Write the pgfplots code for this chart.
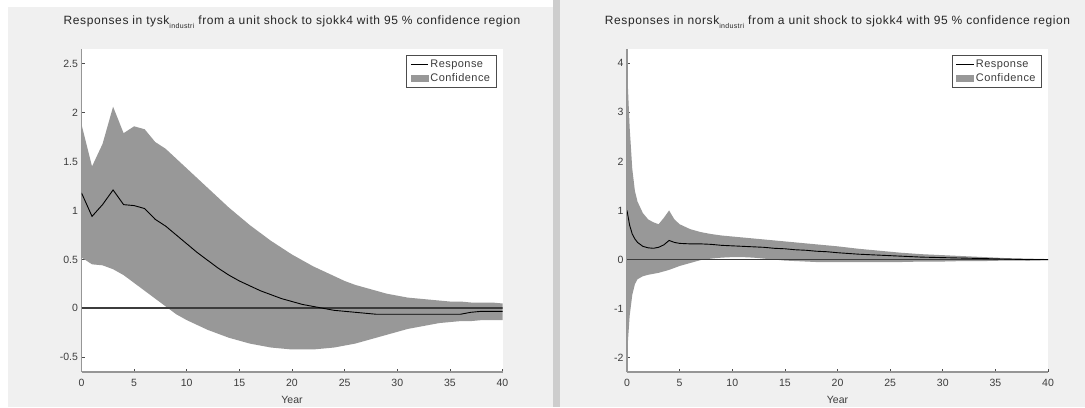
\documentclass[border=0pt]{standalone}
\usepackage{pgfplots}
\pgfplotsset{compat=1.18}
\usepackage{fontspec}
\setmainfont{Liberation Sans}
\definecolor{bg}{RGB}{240,240,240}
\definecolor{divider}{RGB}{205,205,205}
\definecolor{band}{RGB}{152,152,152}
\definecolor{axgray}{RGB}{150,150,150}
\definecolor{zeroline}{RGB}{60,60,60}
\definecolor{txt}{RGB}{60,60,60}

% response lines
\pgfplotstableread{
t resp
0 1.18
1 0.94
2 1.06
3 1.21
4 1.06
5 1.05
6 1.02
7 0.91
8 0.84
9 0.75
10 0.66
11 0.57
12 0.49
13 0.41
14 0.34
15 0.28
16 0.23
17 0.18
18 0.14
19 0.10
20 0.07
21 0.04
22 0.02
23 0.00
24 -0.02
25 -0.03
26 -0.04
27 -0.05
28 -0.06
29 -0.06
30 -0.06
31 -0.06
32 -0.06
33 -0.06
34 -0.06
35 -0.06
36 -0.06
37 -0.04
38 -0.03
39 -0.03
40 -0.03
}\tyskresp

% confidence region: upper bound forward, lower bound backward
\pgfplotstableread{
t v
0 1.88
1 1.45
2 1.68
3 2.06
4 1.79
5 1.86
6 1.83
7 1.70
8 1.63
9 1.53
10 1.43
11 1.33
12 1.23
13 1.13
14 1.03
15 0.94
16 0.85
17 0.77
18 0.69
19 0.62
20 0.55
21 0.49
22 0.43
23 0.38
24 0.33
25 0.28
26 0.24
27 0.21
28 0.18
29 0.15
30 0.13
31 0.11
32 0.10
33 0.09
34 0.08
35 0.07
36 0.07
37 0.06
38 0.06
39 0.06
40 0.05
40 -0.12
39 -0.12
38 -0.12
37 -0.13
36 -0.13
35 -0.14
34 -0.15
33 -0.17
32 -0.19
31 -0.21
30 -0.24
29 -0.27
28 -0.30
27 -0.33
26 -0.36
25 -0.38
24 -0.40
23 -0.41
22 -0.42
21 -0.42
20 -0.42
19 -0.41
18 -0.40
17 -0.38
16 -0.36
15 -0.33
14 -0.30
13 -0.26
12 -0.22
11 -0.17
10 -0.12
9 -0.06
8 0.02
7 0.10
6 0.18
5 0.26
4 0.34
3 0.40
2 0.44
1 0.45
0 0.52
}\tyskband

\pgfplotstableread{
t resp
0 1.00
0.25 0.70
0.5 0.52
0.75 0.42
1 0.35
1.5 0.27
2 0.24
2.5 0.23
3 0.25
3.5 0.30
4 0.39
4.5 0.35
5 0.33
6 0.32
7 0.32
8 0.31
9 0.29
10 0.28
11 0.27
12 0.26
13 0.25
14 0.23
15 0.22
16 0.20
17 0.19
18 0.17
19 0.16
20 0.14
22 0.11
24 0.09
26 0.07
28 0.05
30 0.04
32 0.03
34 0.02
36 0.01
38 0.00
40 0.00
}\norskresp

\pgfplotstableread{
t v
0 3.95
0.25 2.70
0.5 1.85
0.75 1.40
1 1.18
1.5 0.95
2 0.82
2.5 0.76
3 0.72
3.5 0.85
4 1.00
4.5 0.82
5 0.72
6 0.62
7 0.56
8 0.52
9 0.49
10 0.47
11 0.45
12 0.43
13 0.41
14 0.39
15 0.37
16 0.35
17 0.33
18 0.31
19 0.29
20 0.27
22 0.22
24 0.18
26 0.14
28 0.11
30 0.09
32 0.07
34 0.05
36 0.03
38 0.02
40 0.01
40 -0.01
38 -0.02
36 -0.02
34 -0.03
32 -0.03
30 -0.04
28 -0.04
26 -0.05
24 -0.05
22 -0.05
20 -0.05
19 -0.05
18 -0.05
17 -0.04
16 -0.03
15 -0.02
14 0.00
13 0.02
12 0.04
11 0.05
10 0.05
9 0.04
8 0.02
7 -0.01
6 -0.07
5 -0.13
4.5 -0.17
4 -0.21
3.5 -0.24
3 -0.27
2.5 -0.29
2 -0.31
1.5 -0.34
1 -0.40
0.75 -0.50
0.5 -0.72
0.25 -1.15
0 -1.95
}\norskband

\pgfplotsset{
  irf/.style={
    scale only axis,
    width=421pt, height=323pt,
    xmin=0, xmax=40,
    xtick={0,5,...,40},
    axis x line=bottom, axis y line=left,
    axis line style={-, axgray, line width=1.6pt},
    tick align=inside,
    major tick length=3pt,
    tick style={black!70, line width=0.6pt},
    axis background/.style={fill=white},
    ticklabel style={font=\fontsize{10.5}{12}\selectfont, text=txt},
    xticklabel style={yshift=-4pt},
    /pgf/number format/assume math mode=true,
    xlabel={Year},
    xlabel style={font=\fontsize{10.5}{12}\selectfont, text=txt, at={(0.5,0)}, anchor=base, yshift=-32pt},
    title style={font=\fontsize{12}{14}\selectfont\addfontfeatures{LetterSpace=5}, text=black!85, at={(0.5,1)}, anchor=base, yshift=18pt},
    legend style={at={(1,1)}, anchor=north east, xshift=-6pt, yshift=-6pt,
      draw=black!70, line width=0.8pt, fill=white,
      font=\fontsize{11}{13}\selectfont\addfontfeatures{LetterSpace=4}, text=txt,
      inner xsep=4pt, inner ysep=2.5pt, row sep=0.5pt},
    legend cell align=left,
  }
}

\begin{document}
\begin{tikzpicture}
\fill[white] (0,0) rectangle (1085pt,407pt);
\fill[bg] (8pt,0) rectangle (553pt,400pt);
\fill[divider] (553pt,0) rectangle (560pt,407pt);
\fill[bg] (560pt,0) rectangle (1085pt,407pt);

\begin{axis}[irf, at={(81.5pt,35pt)}, anchor=south west,
  ymin=-0.65, ymax=2.65, ytick={-0.5,0,0.5,1,1.5,2,2.5},
  title={Responses in tysk\raisebox{-4pt}{\fontsize{7}{8}\selectfont industri} from a unit shock to sjokk4 with 95 \% confidence region}]
  \addplot[fill=band, draw=none, forget plot] table[x=t, y=v] {\tyskband};
  \addplot[zeroline, line width=1.8pt, forget plot] coordinates {(0,0) (40,0)};
  \addplot[black, line width=0.9pt] table[x=t, y=resp] {\tyskresp};
  \addlegendentry{Response}
  \addlegendimage{area legend, fill=band, draw=band, line width=0.1pt}
  \addlegendentry{Confidence}
\end{axis}

\begin{axis}[irf, at={(627pt,35pt)}, anchor=south west,
  ymin=-2.29, ymax=4.29, ytick={-2,-1,0,1,2,3,4},
  title={Responses in norsk\raisebox{-4pt}{\fontsize{7}{8}\selectfont industri} from a unit shock to sjokk4 with 95 \% confidence region}]
  \addplot[fill=band, draw=none, forget plot] table[x=t, y=v] {\norskband};
  \addplot[zeroline, line width=1.8pt, forget plot] coordinates {(0,0) (40,0)};
  \addplot[black, line width=0.9pt] table[x=t, y=resp] {\norskresp};
  \addlegendentry{Response}
  \addlegendimage{area legend, fill=band, draw=band, line width=0.1pt}
  \addlegendentry{Confidence}
\end{axis}
\end{tikzpicture}
\end{document}
